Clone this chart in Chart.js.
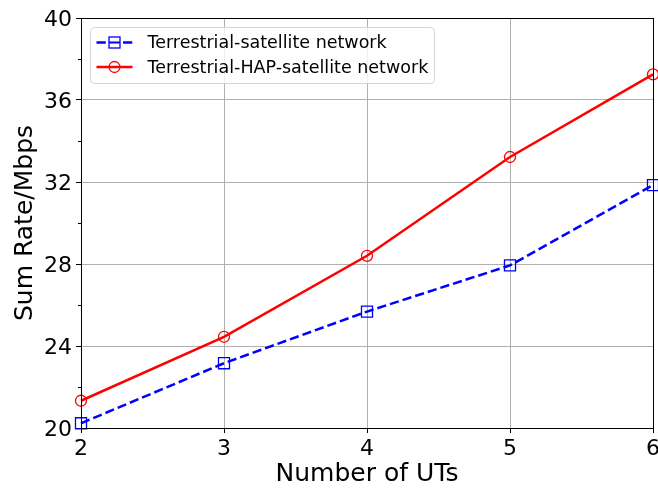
<!DOCTYPE html>
<html>
<head>
<meta charset="utf-8">
<script src="https://cdn.jsdelivr.net/npm/chart.js@4"></script>
<style>
  html, body { margin: 0; padding: 0; background: #fff; }
  #wrap { width: 658px; height: 490px; }
</style>
</head>
<body>
<div id="wrap"><canvas id="chart" width="658" height="490"></canvas></div>
<script>
// values
const numUTs = [2, 3, 4, 5, 6];
const terrSat = [20.23, 23.16, 25.68, 27.93, 31.85];
const terrHapSat = [21.33, 24.45, 28.4, 33.22, 37.25];
const yTicks = [20, 24, 28, 32, 36, 40];
const yMinor = [22, 26, 30, 34, 38];

const FONT = 'DejaVu Sans';

const toXY = (xs, ys) => xs.map((x, i) => ({x, y: ys[i]}));

// frame on all four sides + minor ticks on y, like matplotlib spines
const framePlugin = {
  id: 'frame',
  afterDatasetsDraw(chart){
    const {ctx, chartArea: a, scales} = chart;
    ctx.save();
    ctx.strokeStyle = '#000';
    ctx.lineWidth = 1;
    ctx.strokeRect(Math.round(a.left)+0.5, Math.round(a.top)+0.5, Math.round(a.right-a.left), Math.round(a.bottom-a.top));
    yMinor.forEach(v=>{
      const y = Math.round(scales.y.getPixelForValue(v)) + 0.5;
      ctx.beginPath(); ctx.moveTo(a.left-3, y); ctx.lineTo(a.left, y); ctx.stroke();
    });
    ctx.restore();
  }
};

// matplotlib style legend box in the upper left
const legendPlugin = {
  id: 'mplLegend',
  afterDraw(chart){
    const {ctx, chartArea: a} = chart;
    const x0 = a.left + 9.5, y0 = a.top + 9.5, w = 344, h = 56, r = 4;
    ctx.save();
    ctx.beginPath();
    ctx.roundRect(x0, y0, w, h, r);
    ctx.fillStyle = 'rgba(255,255,255,0.8)';
    ctx.fill();
    ctx.strokeStyle = '#d6d6d6';
    ctx.lineWidth = 1;
    ctx.stroke();
    chart.data.datasets.forEach((ds, i)=>{
      const cy = y0 + 15 + i*24.5;
      ctx.strokeStyle = ds.borderColor;
      ctx.lineWidth = ds.borderWidth;
      ctx.setLineDash(ds.borderDash || []);
      ctx.lineDashOffset = 0;
      ctx.beginPath(); ctx.moveTo(x0+6, cy); ctx.lineTo(x0+42, cy); ctx.stroke();
      ctx.setLineDash([]);
      ctx.lineWidth = ds.pointBorderWidth;
      const mx = x0 + 24;
      if(ds.pointStyle === 'rect'){
        ctx.fillStyle = '#fff';
        ctx.fillRect(mx-5.5, cy-5.5, 11, 11);
        ctx.strokeRect(mx-5.5, cy-5.5, 11, 11);
        ctx.beginPath(); ctx.moveTo(mx-5.5, cy); ctx.lineTo(mx+5.5, cy); ctx.lineWidth = 2; ctx.stroke();
      }else{
        ctx.beginPath(); ctx.arc(mx, cy, 5.5, 0, Math.PI*2); ctx.stroke();
      }
      ctx.fillStyle = '#000';
      ctx.font = `17.5px "${FONT}"`;
      ctx.textBaseline = 'middle';
      ctx.fillText(ds.label, x0 + 57, cy + 1);
    });
    ctx.restore();
  }
};

new Chart(document.getElementById('chart'), {
  type: 'line',
  data: {
    datasets: [
      {
        label: 'Terrestrial-satellite network',
        data: toXY(numUTs, terrSat),
        borderColor: '#0000ff', borderWidth: 2.5, borderDash: [9.25, 4],
        pointStyle: 'rect', pointRadius: 7.8, pointBorderWidth: 1.3,
        pointBorderColor: '#0000ff', pointBackgroundColor: 'rgba(0,0,0,0)',
        tension: 0, clip: false
      },
      {
        label: 'Terrestrial-HAP-satellite network',
        data: toXY(numUTs, terrHapSat),
        borderColor: '#ff0000', borderWidth: 2.5,
        pointStyle: 'circle', pointRadius: 5.5, pointBorderWidth: 1.3,
        pointBorderColor: '#ff0000', pointBackgroundColor: 'rgba(0,0,0,0)',
        tension: 0, clip: false
      }
    ]
  },
  options: {
    responsive: false,
    animation: false,
    events: [],
    layout: { autoPadding: false, padding: { top: 18, right: 5, left: 0, bottom: 0 } },
    plugins: { legend: { display: false }, tooltip: { enabled: false } },
    scales: {
      x: {
        type: 'linear', min: 2, max: 6,
        afterBuildTicks(s){ s.ticks = numUTs.map(v=>({value: v})); },
        afterFit(s){ s.height = 62; s.paddingLeft = 0; s.paddingRight = 0; },
        border: { color: '#000', width: 1 },
        grid: { color: '#b0b0b0', lineWidth: 1, tickColor: '#000', tickLength: 5 },
        ticks: { color: '#000', font: { family: FONT, size: 22 }, padding: 3, maxRotation: 0 },
        title: { display: true, text: 'Number of UTs', color: '#000', font: { family: FONT, size: 25 }, padding: { top: 0, bottom: 1 } }
      },
      y: {
        min: 20, max: 40,
        afterBuildTicks(s){ s.ticks = yTicks.map(v=>({value: v})); },
        afterFit(s){ s.width = 81; s.paddingTop = 0; s.paddingBottom = 0; },
        border: { color: '#000', width: 1 },
        grid: { color: '#b0b0b0', lineWidth: 1, tickColor: '#000', tickLength: 5 },
        ticks: { color: '#000', font: { family: FONT, size: 22 }, padding: 4, labelOffset: 2 },
        title: { display: true, text: 'Sum Rate/Mbps', color: '#000', font: { family: FONT, size: 25 }, padding: { top: 10, bottom: 0 } }
      }
    }
  },
  plugins: [framePlugin, legendPlugin]
});
</script>
</body>
</html>
